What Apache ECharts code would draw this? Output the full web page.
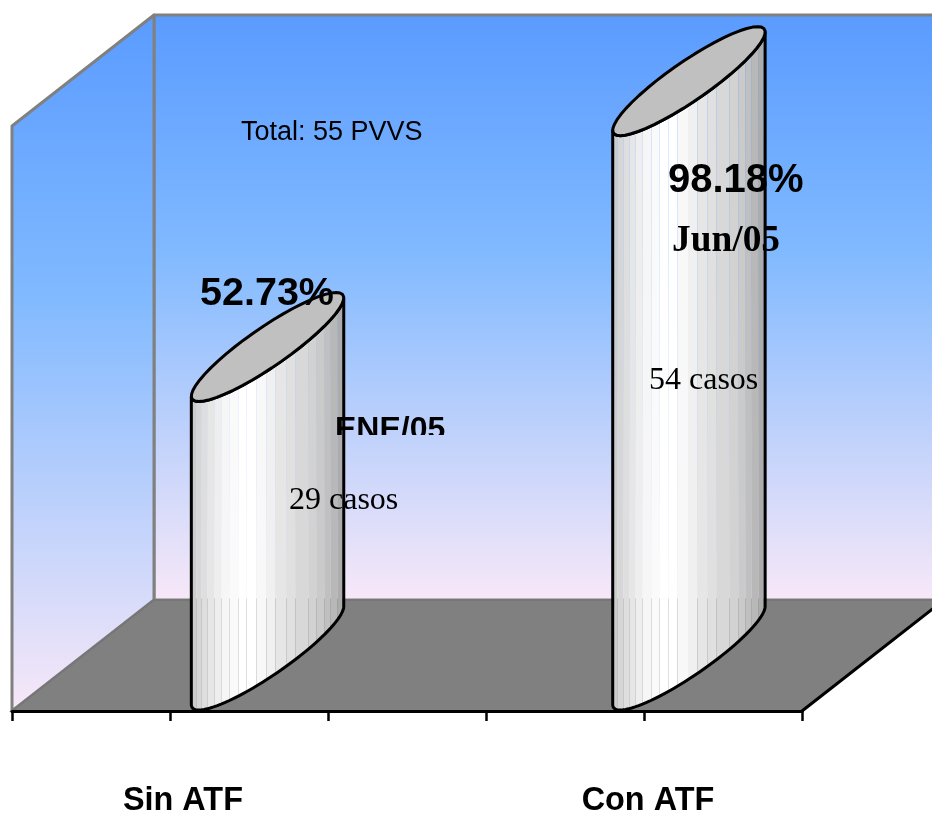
<!DOCTYPE html>
<html>
<head>
<meta charset="utf-8">
<style>
  html, body { margin: 0; padding: 0; background: #fff; }
  #chart { width: 932px; height: 813px; }
</style>
<script src="https://cdn.jsdelivr.net/npm/echarts@6/dist/echarts.min.js"></script>
</head>
<body>
<div id="chart"></div>
<script>
// datos
var categories = ['Sin ATF', 'Con ATF'];
var percentValues = [52.73, 98.18];
var periodLabels = ['ENE/05', 'Jun/05'];
var caseCounts = [29, 54];
var totalLabel = 'Total: 55 PVVS';

// where things sit on the 0-5 x axis
var barSlots = [1.168, 3.835];
var labelSlots = [1.082, 4.025];
var xTicks = 5;

// cylinder side strips
var stripEdges = [0, .009, .039, .075, .112, .156, .2, .254, .309, .364, .425, .491, .55, .616, .675, .759, .814, .862, .901, .945, .978, 1];
var stripShades = [190, 204, 214, 222, 230, 238, 246, 250, 255, 255, 248, 240, 230, 224, 216, 210, 202, 192, 184, 172, 158];

var depthX = 142, depthY = 111;
var capA = 33, capB = 68.7, capC = 54.5;

var sideFill = (function () {
  var stops = [];
  for (var i = 0; i < stripShades.length; i++) {
    var s = stripShades[i];
    var solid = 'rgb(' + s + ',' + s + ',' + s + ')';
    var seam = 'rgba(' + s + ',' + s + ',' + s + ',0.75)';
    var seamEnd = Math.min(stripEdges[i] + 0.006, stripEdges[i + 1]);
    stops.push({ offset: stripEdges[i], color: i ? seam : solid });
    stops.push({ offset: seamEnd, color: i ? seam : solid });
    stops.push({ offset: seamEnd, color: solid });
    stops.push({ offset: stripEdges[i + 1], color: solid });
  }
  return new echarts.graphic.LinearGradient(0, 0, 1, 0, stops);
})();

// tilted ellipse of the cylinder cap
function ellipsePoints(cx, cy, from, to) {
  var pts = [];
  for (var i = 0; i <= 48; i++) {
    var t = from + (to - from) * i / 48;
    pts.push([cx + capA * Math.cos(t) + capB * Math.sin(t), cy - capC * Math.sin(t)]);
  }
  return pts;
}

function renderWalls(params, api) {
  var o = api.coord([0, 0]);
  var end = api.coord([xTicks, 0]);
  var top = api.coord([0, 100]);
  var backX = o[0] + depthX, backY = o[1] - depthY;
  var topY = top[1] - depthY;
  var wallFill = new echarts.graphic.LinearGradient(0, 0, 0, 1, [
    { offset: 0, color: '#5a9bff' },
    { offset: 0.4, color: '#80b9ff' },
    { offset: 1, color: '#f8e8f8' }
  ]);
  var grey = { stroke: '#808080', lineWidth: 3, lineJoin: 'round' };
  return {
    type: 'group',
    children: [
      {
        type: 'polygon',
        shape: { points: [[backX, topY], [960, topY], [960, backY], [backX, backY]] },
        style: Object.assign({ fill: wallFill }, grey)
      },
      {
        type: 'polygon',
        shape: { points: [top, [backX, topY], [backX, backY], o] },
        style: Object.assign({ fill: wallFill }, grey)
      },
      {
        type: 'polygon',
        shape: { points: [o, [backX, backY], [end[0] + depthX, backY], end] },
        style: { fill: '#808080', stroke: '#767676', lineWidth: 2 }
      },
      {
        type: 'line',
        shape: { x1: end[0], y1: end[1], x2: end[0] + depthX, y2: backY },
        style: { stroke: '#000', lineWidth: 3 }
      }
    ]
  };
}

function renderBar(params, api) {
  var base = api.coord([api.value(0), 0]);
  var head = api.coord([api.value(0), api.value(1)]);
  var cx = base[0] + depthX / 2;
  var bottomY = base[1] - depthY / 2;
  var topY = head[1] - depthY / 2;
  var right = Math.atan2(capB, capA) + 2 * Math.PI;
  var left = Math.atan2(capB, capA) + Math.PI;
  var side = ellipsePoints(cx, topY, left, right).concat(ellipsePoints(cx, bottomY, right, left));
  var cap = ellipsePoints(cx, topY, 0, 2 * Math.PI);
  return {
    type: 'group',
    children: [
      {
        type: 'polygon',
        shape: { points: side },
        style: { fill: sideFill, stroke: '#000', lineWidth: 3, lineJoin: 'round' }
      },
      {
        type: 'polygon',
        shape: { points: cap },
        style: { fill: '#c0c0c0', stroke: '#000', lineWidth: 3, lineJoin: 'round' }
      }
    ]
  };
}

function textEl(text, x, y, font, clip) {
  var el = {
    type: 'text',
    style: { text: text, x: x, y: y, font: font, fill: '#000', align: 'left', verticalAlign: 'middle' }
  };
  if (clip) el.clipPath = { type: 'rect', shape: clip };
  return el;
}

function renderNotes() {
  var sans = 'Liberation Sans, Arial, sans-serif';
  var serif = 'Liberation Serif, Times New Roman, serif';
  return {
    type: 'group',
    children: [
      textEl(totalLabel, 241, 133, '27px ' + sans),
      textEl(percentValues[0].toFixed(2) + '%', 200, 294, 'bold 39.5px ' + sans),
      textEl(percentValues[1].toFixed(2) + '%', 668, 181, 'bold 40px ' + sans),
      textEl(periodLabels[0], 335, 430, 'bold 32px ' + sans, { x: 325, y: 405, width: 130, height: 30 }),
      textEl(periodLabels[1], 672, 241, 'bold 37.4px ' + serif),
      textEl(caseCounts[0] + ' casos', 289, 501, '32px ' + serif),
      textEl(caseCounts[1] + ' casos', 649, 381, '32px ' + serif)
    ]
  };
}

var chart = echarts.init(document.getElementById('chart'));
chart.setOption({
  animation: false,
  backgroundColor: '#fff',
  grid: { left: 12, right: 130, top: 126, bottom: 102, outerBoundsMode: 'none' },
  xAxis: {
    type: 'value',
    min: 0,
    max: xTicks,
    interval: 1,
    z: 10,
    splitLine: { show: false },
    axisLine: { show: true, onZero: false, lineStyle: { color: '#000', width: 3 } },
    axisTick: { show: true, length: 10, lineStyle: { color: '#000', width: 2.5 } },
    axisLabel: {
      show: true,
      margin: 74,
      customValues: labelSlots,
      formatter: function (v) { return categories[labelSlots.indexOf(v)]; },
      color: '#000',
      fontFamily: 'Liberation Sans',
      fontWeight: 'bold',
      fontSize: 32.4
    }
  },
  yAxis: { type: 'value', min: 0, max: 100, show: false },
  series: [
    { type: 'custom', z: 1, silent: true, data: [[0, 0]], renderItem: renderWalls },
    {
      type: 'custom', z: 2, silent: true,
      data: barSlots.map(function (s, i) { return [s, percentValues[i]]; }),
      renderItem: renderBar
    },
    { type: 'custom', z: 3, silent: true, data: [[0, 0]], renderItem: renderNotes }
  ]
});
</script>
</body>
</html>
